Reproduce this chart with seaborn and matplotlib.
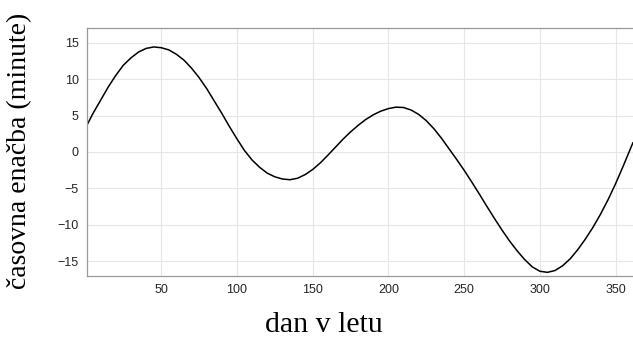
import matplotlib

matplotlib.use("Agg")
import matplotlib.pyplot as plt
import pandas as pd
import seaborn as sns

# equation of time (minutes)
days = [1, 5, 10, 15, 20, 25, 30, 35, 40, 45, 50, 55, 60, 65, 70, 75, 80, 85, 90, 95,
        100, 105, 110, 115, 120, 125, 130, 135, 140, 145, 150, 155, 160, 165, 170, 175,
        180, 185, 190, 195, 200, 205, 210, 215, 220, 225, 230, 235, 240, 245, 250, 255,
        260, 265, 270, 275, 280, 285, 290, 295, 300, 305, 310, 315, 320, 325, 330, 335,
        340, 345, 350, 355, 360, 361.5]
minutes = [3.7, 5.3, 7.1, 8.9, 10.5, 11.9, 12.9, 13.7, 14.2, 14.4, 14.3, 14.0, 13.4, 12.6,
           11.5, 10.2, 8.7, 7.0, 5.3, 3.5, 1.8, 0.2, -1.1, -2.1, -2.9, -3.4, -3.7, -3.8,
           -3.6, -3.1, -2.4, -1.5, -0.45, 0.65, 1.75, 2.75, 3.65, 4.45, 5.1, 5.6, 5.95,
           6.15, 6.1, 5.75, 5.15, 4.3, 3.2, 1.9, 0.45, -1.0, -2.5, -4.1, -5.75, -7.45,
           -9.1, -10.7, -12.2, -13.55, -14.75, -15.75, -16.35, -16.5, -16.25, -15.6,
           -14.65, -13.4, -11.95, -10.35, -8.55, -6.55, -4.35, -1.95, 0.55, 1.3]
x_ticks = [50, 100, 150, 200, 250, 300, 350]
y_ticks = [15, 10, 5, 0, -5, -10, -15]

df = pd.DataFrame({"dan": days, "minute": minutes})

sns.set_theme(style="whitegrid")
plt.rcParams["font.family"] = ["Liberation Sans", "DejaVu Sans"]

fig = plt.figure(figsize=(6.33, 3.37), dpi=100)
ax = fig.add_axes([87 / 633, 1 - 276 / 337, 546 / 633, 248 / 337])

sns.lineplot(data=df, x="dan", y="minute", color="black", linewidth=1.1, ax=ax)

ax.set_xlim(1, 361.5)
ax.set_ylim(-17, 17)
ax.set_xticks(x_ticks)
ax.set_yticks(y_ticks)
ax.grid(True, color="#e6e6e6", linewidth=0.8)
for side in ["left", "bottom", "top"]:
    ax.spines[side].set_color("#9a9a9a")
    ax.spines[side].set_linewidth(0.9)
ax.spines["right"].set_visible(False)
ax.tick_params(axis="both", labelsize=9, colors="#262626", length=0, pad=6)

serif = ["Liberation Serif", "DejaVu Serif"]
ax.set_xlabel("dan v letu", fontsize=21.5, family=serif, color="black")
ax.set_ylabel("časovna enačba (minute)", fontsize=20, family=serif, color="black")
ax.xaxis.set_label_coords(0.434, -0.145)
ax.yaxis.set_label_coords(-0.1, 0.504)

fig.savefig("out.png", dpi=100)
